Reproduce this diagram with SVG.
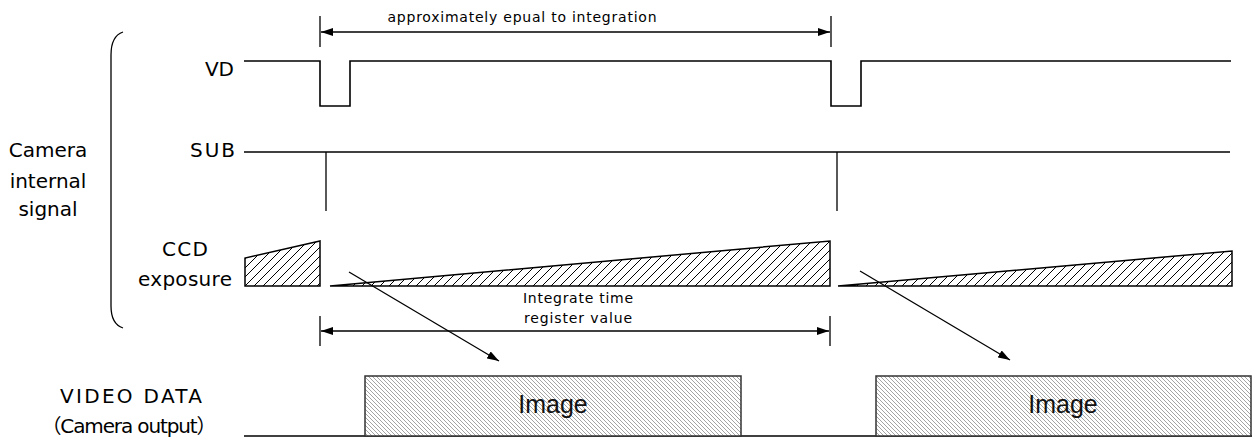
<svg xmlns="http://www.w3.org/2000/svg" width="1254" height="439" viewBox="0 0 1254 439">
<style>
.sig{fill:none;stroke:#000;stroke-width:1.6}
.thin{fill:none;stroke:#000;stroke-width:1.3}
.lbl{font-family:"DejaVu Sans","Noto Sans CJK JP",sans-serif;font-size:20px;fill:#000}
.sm{font-family:"DejaVu Sans","Noto Sans CJK JP",sans-serif;font-size:14px;fill:#000}
.img{font-family:"Liberation Sans",Arial,sans-serif;font-size:25px;fill:#111}
.exp{fill:url(#hatch);stroke:#000;stroke-width:1.5}
.box{fill:url(#fine);stroke:#333;stroke-width:1.5}
</style>
<defs>
<pattern id="hatch" patternUnits="userSpaceOnUse" width="9" height="9">
<rect width="9" height="9" fill="#fff"/>
<path d="M-2,2 L2,-2 M0,9 L9,0 M7,11 L11,7" stroke="#000" stroke-width="1"/>
</pattern>
<pattern id="fine" patternUnits="userSpaceOnUse" width="4" height="4">
<rect width="4" height="4" fill="#fff"/>
<path d="M-1,-1 L5,5 M-1,3 L1,5 M3,-1 L5,1" stroke="#9a9a9a" stroke-width="0.9"/>
</pattern>
<marker id="ah" viewBox="0 0 12 8" refX="12" refY="4" markerWidth="12" markerHeight="8" markerUnits="userSpaceOnUse" orient="auto-start-reverse">
<path d="M0,0 L12,4 L0,8 Z" fill="#000"/>
</marker>
</defs>

<g id="brace">
<path class="thin" d="M123,32 Q111,36 111,55 L111,306 Q111,324 123,328"/>
</g>

<g id="labels">
<text class="lbl" x="48" y="157" text-anchor="middle">Camera</text>
<text class="lbl" x="48" y="188" text-anchor="middle">internal</text>
<text class="lbl" x="48" y="216" text-anchor="middle">signal</text>
<text class="lbl" x="234" y="76" text-anchor="end">VD</text>
<text class="lbl" x="235" y="157" text-anchor="end" textLength="45">SUB</text>
<text class="lbl" x="185" y="256" text-anchor="middle" textLength="46">CCD</text>
<text class="lbl" x="185" y="286" text-anchor="middle" textLength="94">exposure</text>
<text class="lbl" x="131" y="403" text-anchor="middle" textLength="142">VIDEO DATA</text>
<text class="lbl" x="129" y="433" text-anchor="middle" textLength="175">（Camera output）</text>
</g>

<g id="vd">
<path class="sig" d="M244,61 H320 V106 H350 V61 H831 V106 H861 V61 H1231"/>
</g>

<g id="sub">
<path class="sig" d="M244,152 H1230"/>
<path class="thin" d="M326,152 V211 M837,152 V211"/>
</g>

<g id="ccd">
<path class="exp" d="M245,286 V258 L320,241 V286 Z"/>
<path class="exp" d="M330,286 L830,241 V286 Z"/>
<path class="exp" d="M838,286 L1232,251 V286 Z"/>
</g>

<g id="video">
<path class="sig" d="M244,436 H1252"/>
<rect id="image1" class="box" x="365" y="376" width="376" height="60"/>
<rect id="image2" class="box" x="876" y="376" width="375" height="60"/>
<text class="img" x="553" y="413" text-anchor="middle">Image</text>
<text class="img" x="1063" y="413" text-anchor="middle">Image</text>
</g>

<g id="connectors">
<path class="thin" d="M320,16 V47 M831,16 V47"/>
<path class="thin" d="M321,32 H830" marker-start="url(#ah)" marker-end="url(#ah)"/>
<text class="sm" x="522" y="22" text-anchor="middle" textLength="269">approximately epual to integration</text>
<path class="thin" d="M320,316 V346 M830,316 V346"/>
<path class="thin" d="M321,331 H829" marker-start="url(#ah)" marker-end="url(#ah)"/>
<text class="sm" x="578" y="303" text-anchor="middle" textLength="110">Integrate time</text>
<text class="sm" x="578" y="323" text-anchor="middle" textLength="108">register value</text>
<path class="thin" d="M349,272 L499,361" marker-end="url(#ah)"/>
<path class="thin" d="M860,271 L1010,360" marker-end="url(#ah)"/>
</g>
</svg>
